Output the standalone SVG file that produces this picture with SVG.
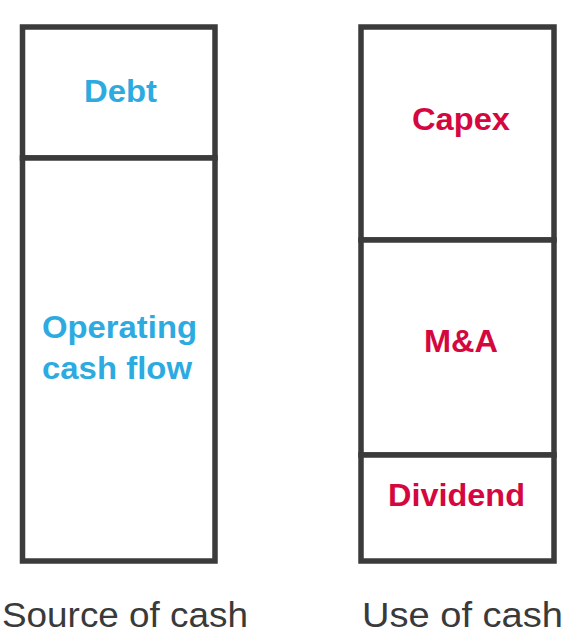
<svg xmlns="http://www.w3.org/2000/svg" width="569" height="642" viewBox="0 0 569 642">
<style>
.box{fill:#fff;stroke:#3b3b3b;stroke-width:5.5}
.src{font-family:"Liberation Sans",Arial,sans-serif;font-weight:bold;font-size:32px;fill:#2dabe1}
.use{font-family:"Liberation Sans",Arial,sans-serif;font-weight:bold;font-size:32px;fill:#d5073f}
.cap{font-family:"Liberation Sans",Arial,sans-serif;font-size:35.5px;fill:#3a3a3a}
</style>
<rect width="569" height="642" fill="#fff"/>
<g id="debt"><rect class="box" x="22.5" y="27" width="192.5" height="131"/><text class="src" x="84" y="102" textLength="73" lengthAdjust="spacingAndGlyphs">Debt</text></g>
<g id="ocf"><rect class="box" x="22.5" y="158" width="192.5" height="403"/><text class="src" x="42" y="338" textLength="155" lengthAdjust="spacingAndGlyphs">Operating</text><text class="src" x="42" y="379" textLength="150" lengthAdjust="spacingAndGlyphs">cash flow</text></g>
<g id="capex"><rect class="box" x="361" y="27" width="193" height="213"/><text class="use" x="412" y="130" textLength="98" lengthAdjust="spacingAndGlyphs">Capex</text></g>
<g id="ma"><rect class="box" x="361" y="240" width="193" height="215"/><text class="use" x="424" y="352" textLength="74" lengthAdjust="spacingAndGlyphs">M&amp;A</text></g>
<g id="dividend"><rect class="box" x="361" y="455" width="193" height="106"/><text class="use" x="388" y="506" textLength="137" lengthAdjust="spacingAndGlyphs">Dividend</text></g>
<g id="connectors"></g>
<text class="cap" x="2" y="627" textLength="246" lengthAdjust="spacingAndGlyphs">Source of cash</text>
<text class="cap" x="362" y="627" textLength="201" lengthAdjust="spacingAndGlyphs">Use of cash</text>
</svg>
